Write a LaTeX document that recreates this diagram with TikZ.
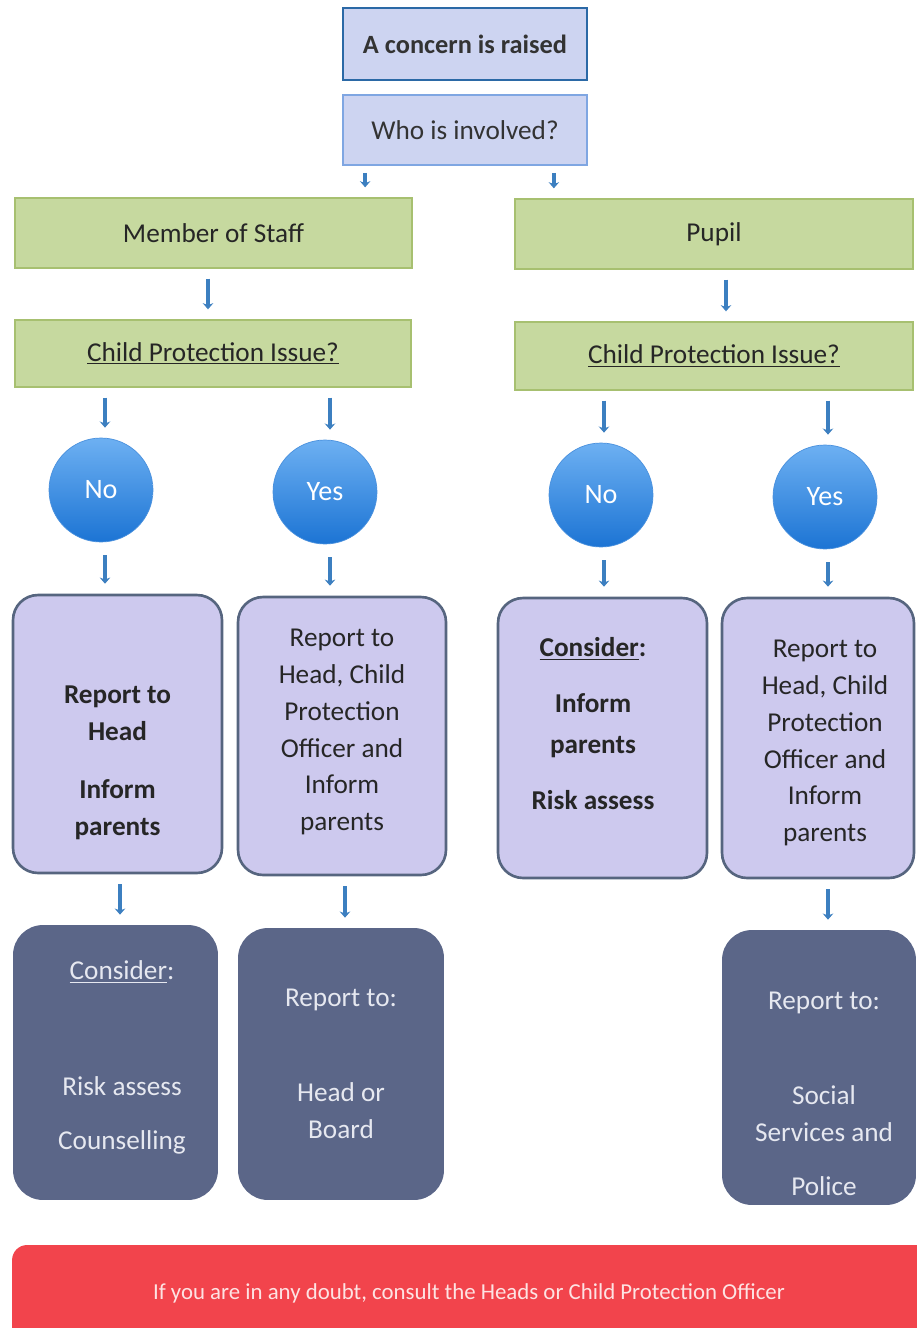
\documentclass[tikz,border=0pt]{standalone}
\usepackage{fontspec}
\setmainfont{Carlito}
\usepackage{tikz}
\usetikzlibrary{positioning, arrows.meta}
\definecolor{topfill}{HTML}{CDD4F1}
\definecolor{topedge}{HTML}{2B69A6}
\definecolor{whoedge}{HTML}{7FA6E2}
\definecolor{greenfill}{HTML}{C6D99F}
\definecolor{greenedge}{HTML}{A7C070}
\definecolor{arrowblue}{HTML}{3C7FC0}
\definecolor{ballTop}{HTML}{6DB0F2}
\definecolor{ballBottom}{HTML}{1C74D4}
\definecolor{lilac}{HTML}{CDC9EE}
\definecolor{lilacedge}{HTML}{56657F}
\definecolor{slate}{HTML}{5B6688}
\definecolor{slatetext}{HTML}{E6E8F0}
\definecolor{warnred}{HTML}{F2444C}
\definecolor{warntext}{HTML}{FDE3E3}
\tikzset{
    flow/.style={line width=2.5pt, draw=arrowblue, -{Stealth[length=3.5pt,width=6pt]}, shorten <=0.2cm, shorten >=0.2cm}, % short blue arrows
    bluebox/.style={draw, fill=topfill, minimum width=4.88cm, text=black!80}, % top two boxes
    greenbox/.style={draw=greenedge, line width=0.8pt, fill=greenfill, minimum height=1.4cm, text=black!85, font=\fontsize{15.5}{18}\selectfont},
    answer/.style={circle, draw=ballBottom!80, top color=ballTop, bottom color=ballBottom, minimum size=2.08cm, text=white, font=\fontsize{16}{19}\selectfont},
    lilacbox/.style={draw=lilacedge, line width=1.5pt, fill=lilac, rounded corners=0.5cm, minimum height=5.56cm},
    slatebox/.style={fill=slate, rounded corners=0.6cm, minimum height=5.5cm},
    boxtext/.style={align=center, text=black!85, font=\fontsize{15.5}{21}\selectfont},
    slatetxt/.style={align=center, text=slatetext, font=\fontsize{15.5}{21}\selectfont},
}
\begin{document}
\begin{tikzpicture}[x=0.02cm, y=-0.02cm]
    \useasboundingbox (0,0) rectangle (916,1328);
    % top of the chart
    \node[bluebox, draw=topedge, line width=1.4pt, minimum height=1.44cm, font=\fontsize{15}{18}\selectfont\bfseries] (concern) at (465,44) {A concern is raised};
    \node[bluebox, draw=whoedge, line width=1pt, minimum height=1.4cm, font=\fontsize{15.5}{18}\selectfont] (who) at (465,130) {Who is involved?};
    \coordinate (whoL) at ([xshift=0.46cm]who.south west);
    \coordinate (whoR) at ([xshift=-0.68cm]who.south east);
    % staff and pupil branches
    \node[greenbox, minimum width=7.94cm] (staff) at (213.5,233) {Member of Staff};
    \node[greenbox, minimum width=7.96cm] (pupil) at (714,234) {Pupil};
    \node[greenbox, minimum width=7.92cm, minimum height=1.34cm] (cpStaff) at (213,353.5) {\underline{Child Protection Issue?}};
    \node[greenbox, minimum width=7.96cm, minimum height=1.36cm] (cpPupil) at (714,356) {\underline{Child Protection Issue?}};
    % answers
    \node[answer] (noStaff) at (101,490) {No};
    \node[answer] (yesStaff) at (325,492) {Yes};
    \node[answer] (noPupil) at (601,495) {No};
    \node[answer] (yesPupil) at (825,497) {Yes};
    % first actions
    \node[lilacbox, minimum width=4.18cm] (repStaffNo) at (117.5,734) {};
    \node[lilacbox, minimum width=4.16cm] (repStaffYes) at (342,736) {};
    \node[lilacbox, minimum width=4.18cm, minimum height=5.6cm] (repPupilNo) at (602.5,738) {};
    \node[lilacbox, minimum width=3.84cm, minimum height=5.6cm] (repPupilYes) at (818,738) {};
    \node[boxtext, font=\fontsize{15.5}{21}\selectfont\bfseries] (tStaffNo) at (117.5,763) {Report to\\Head\\[12pt]Inform\\parents};
    \node[boxtext] (tStaffYes) at (342,732) {Report to\\Head, Child\\Protection\\Officer and\\Inform\\parents};
    \node[boxtext, font=\fontsize{15.5}{21}\selectfont\bfseries] (tPupilNo) at (593,723.5) {\underline{Consider}:\\[11pt]Inform\\[2pt]parents\\[11pt]Risk assess};
    \node[boxtext] (tPupilYes) at (825,743) {Report to\\Head, Child\\Protection\\Officer and\\Inform\\parents};
    % further actions
    \node[slatebox, minimum width=4.1cm] (outStaffNo) at (115.5,1062.5) {};
    \node[slatebox, minimum width=4.12cm, minimum height=5.44cm] (outStaffYes) at (341,1064) {};
    \node[slatebox, minimum width=3.88cm] (outPupilYes) at (819,1067.5) {};
    \node[slatetxt] (tOutStaffNo) at (122,1057.5) {\underline{Consider}:\\[45pt]Risk assess\\[10pt]Counselling};
    \node[slatetxt] (tOutStaffYes) at (341,1063.5) {Report to:\\[33pt]Head or\\Board};
    \node[slatetxt] (tOutPupilYes) at (824,1094) {Report to:\\[33pt]Social\\Services and\\[10pt]Police};
    % warning bar
    \node[fill=warnred, rounded corners=0.3cm, minimum width=18.56cm, minimum height=2.1cm] (warn) at (476,1297.5) {};
    \node[text=warntext, font=\fontsize{13}{15}\selectfont] (tWarn) at (469,1293) {If you are in any doubt, consult the Heads or Child Protection Officer};
    % arrows
    \draw[flow, shorten <=0.14cm] (whoL) -- (whoL |- staff.north);
    \draw[flow, shorten <=0.14cm] (whoR) -- (whoR |- pupil.north);
    \draw[flow] ([xshift=-0.11cm]staff.south) -- ([xshift=-0.11cm]staff.south |- cpStaff.north);
    \draw[flow] ([xshift=0.24cm]pupil.south) -- ([xshift=0.24cm]pupil.south |- cpPupil.north);
    \draw[flow] ([xshift=0.08cm]cpStaff.south -| noStaff) -- ([xshift=0.08cm]noStaff.north);
    \draw[flow] ([xshift=0.1cm]cpStaff.south -| yesStaff) -- ([xshift=0.1cm]yesStaff.north);
    \draw[flow] ([xshift=0.06cm]cpPupil.south -| noPupil) -- ([xshift=0.06cm]noPupil.north);
    \draw[flow] ([xshift=0.06cm]cpPupil.south -| yesPupil) -- ([xshift=0.06cm]yesPupil.north);
    \draw[flow, shorten <=0.26cm] ([xshift=0.08cm]noStaff.south) -- ([xshift=0.08cm]noStaff.south |- repStaffNo.north);
    \draw[flow, shorten <=0.26cm] ([xshift=0.1cm]yesStaff.south) -- ([xshift=0.1cm]yesStaff.south |- repStaffYes.north);
    \draw[flow, shorten <=0.26cm] ([xshift=0.06cm]noPupil.south) -- ([xshift=0.06cm]noPupil.south |- repPupilNo.north);
    \draw[flow, shorten <=0.26cm] ([xshift=0.06cm]yesPupil.south) -- ([xshift=0.06cm]yesPupil.south |- repPupilYes.north);
    \draw[flow] ([xshift=0.05cm]repStaffNo.south) -- ([xshift=0.05cm]repStaffNo.south |- outStaffNo.north);
    \draw[flow] ([xshift=0.06cm]repStaffYes.south) -- ([xshift=0.06cm]repStaffYes.south |- outStaffYes.north);
    \draw[flow] ([xshift=0.2cm]repPupilYes.south) -- ([xshift=0.2cm]repPupilYes.south |- outPupilYes.north);
\end{tikzpicture}
\end{document}
